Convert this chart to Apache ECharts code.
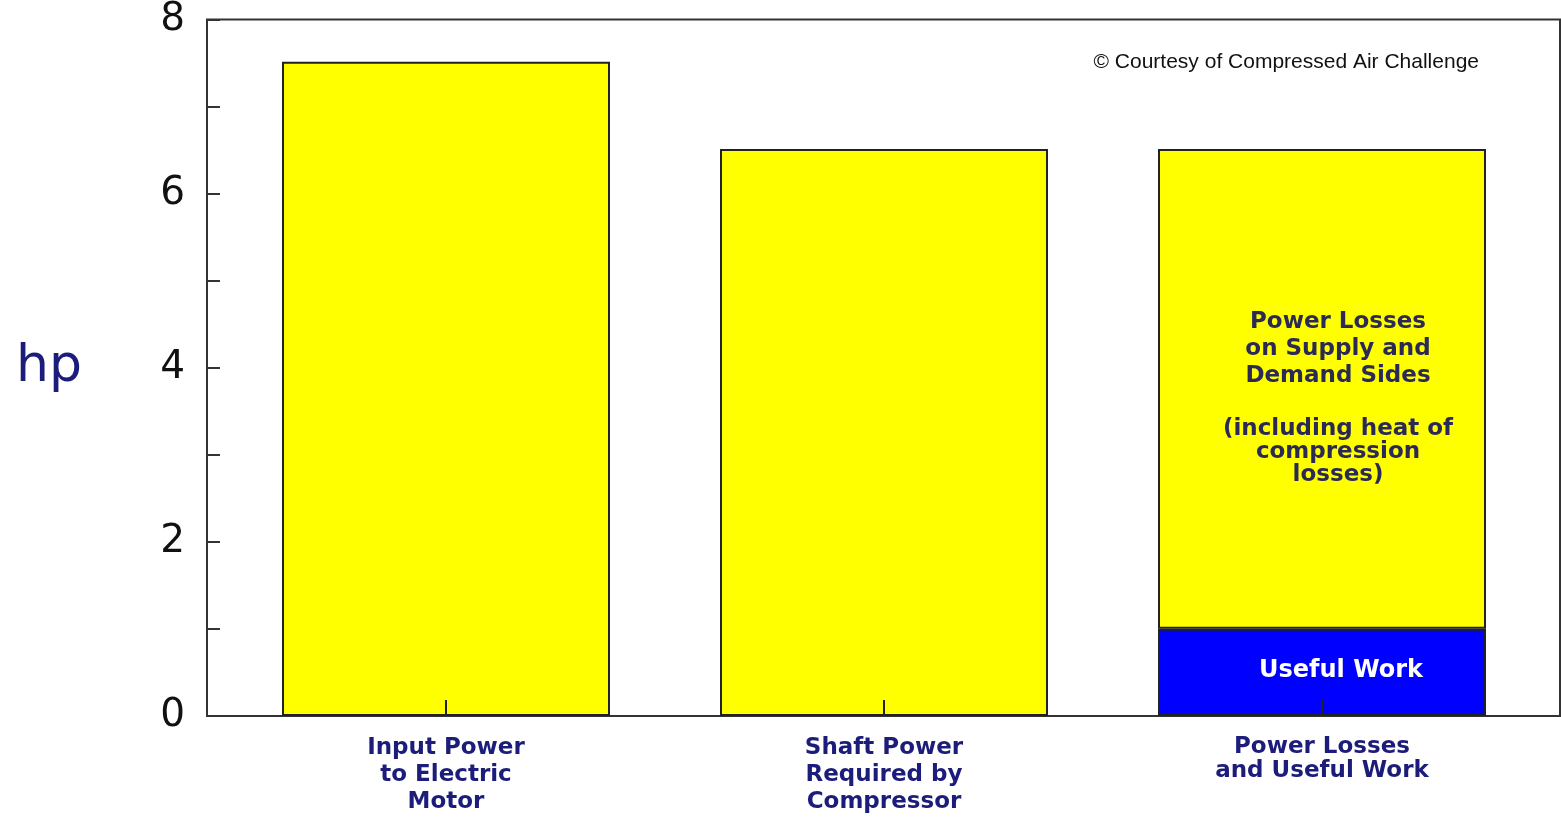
<!DOCTYPE html>
<html>
<head>
<meta charset="utf-8">
<script src="https://cdn.jsdelivr.net/npm/echarts@6/dist/echarts.min.js"></script>
<style>
  html, body { margin: 0; padding: 0; background: #fff; }
  #chart { width: 1561px; height: 817px; }
</style>
</head>
<body>
<div id="chart"></div>
<script>
"use strict";
var categories = ['Input Power\nto Electric\nMotor', 'Shaft Power\nRequired by\nCompressor', 'Power Losses\nand Useful Work'];
var baseValues = [7.5, 6.5, 1.0];      // last one = useful work
var baseColors = ['#ffff00', '#ffff00', '#0000ff'];
var lossValues = ['-', '-', 5.5];      // losses stacked on useful work
var yTicks = [0, 2, 4, 6, 8];

var navy = '#1c1c7a';

var option = {
	animation: false,
	title: {
		text: '\u00a9 Courtesy of Compressed Air Challenge',
		right: 77, top: 47,
		textStyle: { fontFamily: 'Liberation Sans', fontSize: 21, fontWeight: 'normal', color: '#111' }
	},
	grid: [
		{ left: 207, right: 1, top: 18, bottom: 101, show: true, borderColor: '#333', borderWidth: 2, backgroundColor: 'transparent' },
		{ left: 227, right: 20, top: 18, bottom: 101 }
	],
	xAxis: [
		{ gridIndex: 0, type: 'value', min: 0, max: 1, show: false },
		{
			gridIndex: 1, type: 'category', data: categories, z: 10,
			axisLine: { show: false },
			axisTick: { show: true, inside: true, length: 16, alignWithLabel: true, lineStyle: { color: '#222', width: 2 } },
			axisLabel: {
				margin: 19, color: navy, fontFamily: 'DejaVu Sans', fontWeight: 'bold', fontSize: 23, lineHeight: 27,
				formatter: function (v, i) { return i === 2 ? '{t|' + v.replace('\n', '}\n{t|') + '}' : v; },
				rich: { t: { color: navy, fontFamily: 'DejaVu Sans', fontWeight: 'bold', fontSize: 23, lineHeight: 24 } }
			}
		}
	],
	yAxis: [
		{
			gridIndex: 0, type: 'value', min: 0, max: 8, interval: 2,
			name: 'hp', nameLocation: 'middle', nameRotate: 0, nameGap: 125,
			nameTextStyle: { color: navy, fontFamily: 'DejaVu Sans', fontSize: 52, padding: [8, 0, 0, 0] },
			axisLine: { show: false },
			axisTick: { show: true, inside: true, length: 13, lineStyle: { color: '#333', width: 2 } },
			minorTick: { show: true, splitNumber: 2, length: 13, lineStyle: { color: '#333', width: 2 } },
			splitLine: { show: false },
			axisLabel: {
				margin: 22, color: '#111', fontFamily: 'DejaVu Sans', fontSize: 39,
				formatter: function (v) { return yTicks.indexOf(v) >= 0 ? String(v) : ''; }
			}
		},
		{ gridIndex: 1, type: 'value', min: 0, max: 8, show: false }
	],
	series: [
		{
			name: 'base', type: 'bar', xAxisIndex: 1, yAxisIndex: 1, stack: 'p', barWidth: 328,
			data: baseValues.map(function (v, i) { return { value: v, itemStyle: { color: baseColors[i] } }; }),
			itemStyle: { borderColor: '#222', borderWidth: 2 },
			label: {
				show: true, position: 'inside', offset: [19, -2],
				formatter: function (p) { return p.dataIndex === 2 ? 'Useful Work' : ''; },
				color: '#fff', fontFamily: 'DejaVu Sans', fontWeight: 'bold', fontSize: 24
			}
		},
		{
			name: 'losses', type: 'bar', xAxisIndex: 1, yAxisIndex: 1, stack: 'p', barWidth: 328,
			data: lossValues,
			itemStyle: { color: '#ffff00', borderColor: '#222', borderWidth: 2 },
			label: {
				show: true, position: 'inside', offset: [16, 9],
				formatter: '{a|Power Losses\non Supply and\nDemand Sides}\n{b|}\n{c|(including heat of\ncompression\nlosses)}',
				color: '#2a2a55', fontFamily: 'DejaVu Sans', fontWeight: 'bold', fontSize: 23,
				rich: {
					a: { fontFamily: 'DejaVu Sans', fontWeight: 'bold', fontSize: 23, lineHeight: 27, color: '#2a2a55', align: 'center' },
					b: { lineHeight: 28 },
					c: { fontFamily: 'DejaVu Sans', fontWeight: 'bold', fontSize: 23, lineHeight: 23, color: '#2a2a55', align: 'center' }
				}
			}
		}
	]
};

var myChart = echarts.init(document.getElementById('chart'));
myChart.setOption(option);
</script>
</body>
</html>
